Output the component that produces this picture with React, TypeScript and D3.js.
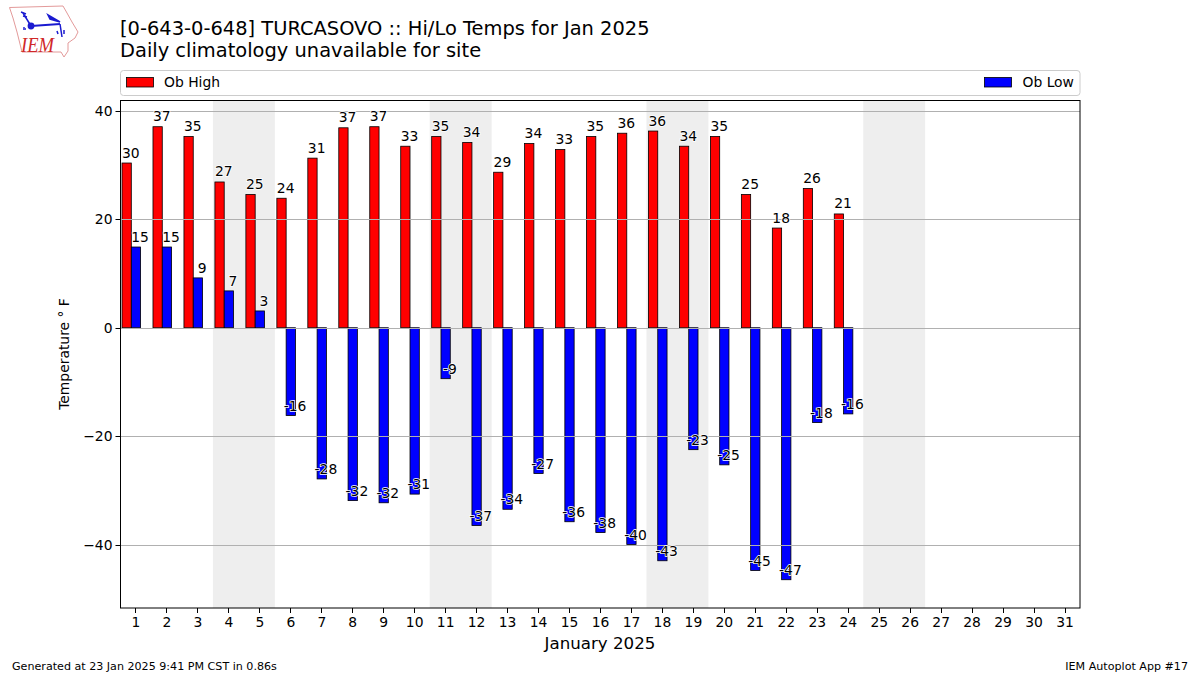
import React from "react";
import * as d3 from "d3";

const days = d3.range(1, 32);
const highs = [30.4, 37.1, 35.3, 26.9, 24.6, 23.9, 31.3, 36.9, 37.1, 33.5, 35.3, 34.2, 28.7, 34.0, 32.9, 35.3, 35.9, 36.3, 33.5, 35.3, 24.6, 18.4, 25.7, 21.0];
const lows = [14.9, 14.9, 9.2, 6.8, 3.1, -16.2, -27.9, -31.9, -32.3, -30.7, -9.4, -36.5, -33.5, -26.9, -35.8, -37.8, -40.0, -43.0, -22.5, -25.3, -44.8, -46.5, -17.5, -15.9];
const highLabels = [30, 37, 35, 27, 25, 24, 31, 37, 37, 33, 35, 34, 29, 34, 33, 35, 36, 36, 34, 35, 25, 18, 26, 21];
const lowLabels = [15, 15, 9, 7, 3, -16, -28, -32, -32, -31, -9, -37, -34, -27, -36, -38, -40, -43, -23, -25, -45, -47, -18, -16];
const weekends = [[3.5, 5.5], [10.5, 12.5], [17.5, 19.5], [24.5, 26.5]];
const yTicks = [-40, -20, 0, 20, 40];

const W = 1200, H = 675;
const L = 120.5, R = 1080, T = 100, B = 608;
const FONT = "'DejaVu Sans', sans-serif";

const x = d3.scaleLinear().domain([0.5, 31.5]).range([120, 1080]);
const y = d3.scaleLinear().domain([40, -40]).range([111, 544.5]);

const barW = x(0.3) - x(0);
const highOffset = -0.435;
const lowOffset = -0.135;

function Logo() {
  return (
    <g>
      <path d="M9.5 7.5 L63 6 L67 13 L72 22 L78 32 L75 38 L68 43 L68 51 L64 57 L61 52 L22 52 L17 32 L13 18 Z" fill="#fff" stroke="#e39a9a" strokeWidth={1} />
      <g stroke="#1a1ad0" fill="none" strokeWidth={1.5}>
        <path d="M31 26 L60 24" strokeWidth={2} />
        <path d="M31 26 L23 13" />
        <path d="M21 12 L26 14 M23 16 L27 17" />
        <path d="M48 15 L60 22 L50 19 Z" fill="#1a1ad0" />
        <path d="M60 24 L62 37" />
        <path d="M57 31 L58 34 M64 30 L64 34" />
      </g>
      <circle cx={31} cy={26} r={3.4} fill="#1a1ad0" />
      <path d="M23 29 L26 29 M24 27 L24 28" stroke="#1a1ad0" strokeWidth={1.4} />
      <text x={21} y={52} fontFamily="'Liberation Serif', serif" fontStyle="italic" fontSize={21} fill="#d02828" textLength={33} lengthAdjust="spacingAndGlyphs">IEM</text>
    </g>
  );
}

export default function App() {
  return (
    <svg width={W} height={H} viewBox={`0 0 ${W} ${H}`} style={{ position: "absolute", left: 0, top: 0, background: "#fff" }} fontFamily={FONT}>
      <Logo />
      <text x={120} y={35} fontSize={19.44} fill="#000">[0-643-0-648] TURCASOVO :: Hi/Lo Temps for Jan 2025</text>
      <text x={120} y={57} fontSize={19.44} fill="#000">Daily climatology unavailable for site</text>

      <rect x={120.5} y={70.5} width={959.5} height={25} rx={3} fill="#fff" stroke="#cccccc" strokeWidth={1} />
      <rect x={126.5} y={77.5} width={27} height={9.5} fill="#ff0000" stroke="#000" strokeWidth={0.8} />
      <text x={164} y={87} fontSize={13.89} fill="#000">Ob High</text>
      <rect x={984.5} y={77.5} width={27} height={9.5} fill="#0000ff" stroke="#000" strokeWidth={0.8} />
      <text x={1022.5} y={87} fontSize={13.89} fill="#000">Ob Low</text>

      {weekends.map(([a, b]) => (
        <rect key={a} x={x(a)} y={T} width={x(b) - x(a)} height={B - T} fill="#eeeeee" />
      ))}

      {highs.map((v, i) => (
        <rect key={i} x={x(days[i] + highOffset)} y={y(v)} width={barW} height={y(0) - y(v)} fill="#ff0000" stroke="#000" strokeWidth={0.8} />
      ))}
      {lows.map((v, i) => (
        <rect key={i} x={x(days[i] + lowOffset)} y={Math.min(y(v), y(0))} width={barW} height={Math.abs(y(0) - y(v))} fill="#0000ff" stroke="#000" strokeWidth={0.8} />
      ))}

      {yTicks.map((t) => (
        <line key={t} x1={L} x2={R} y1={Math.round(y(t)) + 0.5} y2={Math.round(y(t)) + 0.5} stroke="#b0b0b0" strokeWidth={1} />
      ))}

      {highLabels.map((v, i) => (
        <text key={i} x={x(days[i] - 0.15)} y={y(highs[i]) - 5.5} textAnchor="middle" fontSize={13.89} fill="#000" stroke="#fff" strokeWidth={1.5} paintOrder="stroke">{v}</text>
      ))}
      {lowLabels.map((v, i) => (
        <text key={i} x={x(days[i] + 0.15)} y={y(lows[i]) - 5} textAnchor="middle" fontSize={13.89} fill="#000" stroke="#fff" strokeWidth={1.5} paintOrder="stroke">{v}</text>
      ))}

      <rect x={L} y={T + 0.5} width={R - L} height={B - T - 0.5} fill="none" stroke="#000" strokeWidth={1} />

      {days.map((d) => (
        <g key={d}>
          <line x1={Math.round(x(d)) + 0.5} x2={Math.round(x(d)) + 0.5} y1={B} y2={B + 5} stroke="#000" strokeWidth={1} />
          <text x={x(d) + 0.5} y={B + 19} textAnchor="middle" fontSize={13.89} fill="#000">{d}</text>
        </g>
      ))}
      {yTicks.map((t) => (
        <g key={t}>
          <line x1={L - 5} x2={L} y1={Math.round(y(t)) + 0.5} y2={Math.round(y(t)) + 0.5} stroke="#000" strokeWidth={1} />
          <text x={L - 8} y={y(t) + 5} textAnchor="end" fontSize={13.89} fill="#000">{t < 0 ? `\u2212${-t}` : t}</text>
        </g>
      ))}

      <text x={600} y={649} textAnchor="middle" fontSize={16.67} fill="#000">January 2025</text>
      <text transform="translate(69,354) rotate(-90)" textAnchor="middle" fontSize={13.89} fill="#000">Temperature ° F</text>

      <text x={12} y={670} fontSize={11.11} fill="#000">Generated at 23 Jan 2025 9:41 PM CST in 0.86s</text>
      <text x={1188} y={670} textAnchor="end" fontSize={11.11} fill="#000">IEM Autoplot App #17</text>
    </svg>
  );
}
